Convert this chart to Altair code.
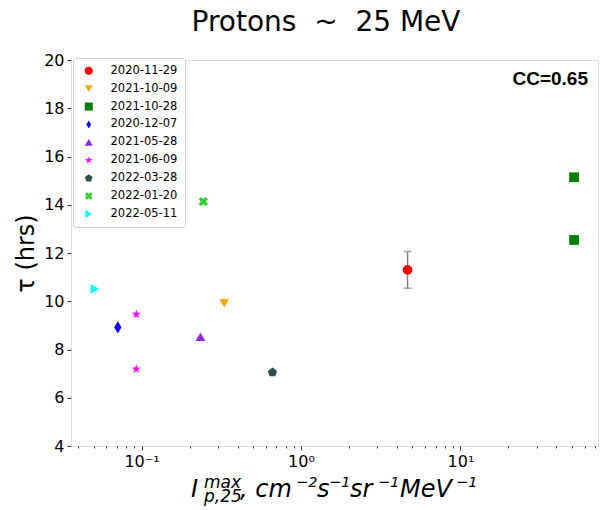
import altair as alt
import pandas as pd

# ---- data ----
dates = ["2020-11-29", "2021-10-09", "2021-10-28", "2021-10-28", "2020-12-07",
         "2021-05-28", "2021-06-09", "2021-06-09", "2022-03-28", "2022-01-20", "2022-05-11"]
intensity = [4.66, 0.33, 51.6, 51.6, 0.071, 0.234, 0.0927, 0.0927, 0.662, 0.244, 0.051]
tau = [11.3, 9.92, 15.14, 12.54, 8.92, 8.53, 9.46, 7.19, 7.05, 14.13, 10.51]

err_date = ["2020-11-29"]
err_x = [4.66]
err_lo = [10.54]
err_hi = [12.06]

legend_order = ["2020-11-29", "2021-10-09", "2021-10-28", "2020-12-07", "2021-05-28",
                "2021-06-09", "2022-03-28", "2022-01-20", "2022-05-11"]

major_ticks = [0.1, 1, 10]
minor_ticks = [0.04, 0.05, 0.06, 0.07, 0.08, 0.09,
               0.2, 0.3, 0.4, 0.5, 0.6, 0.7, 0.8, 0.9,
               2, 3, 4, 5, 6, 7, 8, 9,
               20, 30, 40, 50, 60, 70]
y_ticks = [4, 6, 8, 10, 12, 14, 16, 18, 20]

# ---- styles ----
DIAMOND = "M0,-1L0.6,0L0,1L-0.6,0Z"
STAR = ("M0,-1L0.2245,-0.309L0.951,-0.309L0.363,0.118L0.588,0.809L0,0.382"
        "L-0.588,0.809L-0.363,0.118L-0.951,-0.309L-0.2245,-0.309Z")
PENTAGON = "M0,-1L0.951,-0.309L0.588,0.809L-0.588,0.809L-0.951,-0.309Z"
XFILLED = ("M0.4596,-0.9546L0.9546,-0.4596L0.495,0L0.9546,0.4596L0.4596,0.9546L0,0.495"
           "L-0.4596,0.9546L-0.9546,0.4596L-0.495,0L-0.9546,-0.4596L-0.4596,-0.9546L0,-0.495Z")
colors = ["red", "orange", "green", "blue", "blueviolet", "magenta",
          "darkslategray", "limegreen", "cyan"]
shapes = ["circle", "triangle-down", "square", DIAMOND, "triangle-up", STAR,
          PENTAGON, XFILLED, "triangle-right"]

FONT = "DejaVu Sans"
W, H = 527, 386
NB = "\u00a0"

df = pd.DataFrame({"date": dates, "I": intensity, "tau": tau})
df_err = pd.DataFrame({"date": err_date, "I": err_x, "lo": err_lo, "hi": err_hi})

major_test = "indexof([0.1, 1, 10], datum.value) >= 0"
x_scale = alt.Scale(type="log", domain=[0.0361, 72.9], nice=False)
y_scale = alt.Scale(domain=[4, 20], nice=False)

x_axis = alt.Axis(
    values=sorted(major_ticks + minor_ticks),
    labelExpr="datum.value == 0.1 ? '10⁻¹' : datum.value == 1 ? '10⁰' : datum.value == 10 ? '10¹' : ''",
    tickSize={"condition": {"test": major_test, "value": 4}, "value": 2},
    grid=False, domain=False, title=None,
    labelFont=FONT, labelFontSize=16, labelColor="black", labelPadding=3,
    labelOverlap=False, labelFlush=False, tickColor="#333",
)
y_axis = alt.Axis(
    values=y_ticks, grid=False, domain=False, title="τ (hrs)",
    titleFont=FONT, titleFontSize=24, titleFontWeight="normal", titleColor="black",
    titlePadding=5,
    labelFont=FONT, labelFontSize=16, labelColor="black", labelPadding=3,
    tickSize=4, tickColor="#333",
)

legend = alt.Legend(
    title=None, orient="none", legendX=2, legendY=-2, padding=7,
    strokeColor="#cccccc", fillColor="rgba(255,255,255,0.85)", cornerRadius=3,
    labelFont=FONT, labelFontSize=11.5, labelColor="black",
    symbolSize=64, symbolOffset=3, labelOffset=16, rowPadding=4.9,
    symbolStrokeWidth=0,
)

X = lambda field="I": alt.X(f"{field}:Q", scale=x_scale, axis=x_axis)
Y = lambda field="tau": alt.Y(f"{field}:Q", scale=y_scale, axis=y_axis)

err_rule = alt.Chart(df_err).mark_rule(color="gray", strokeWidth=1.5).encode(
    x=X(), y=Y("lo"), y2="hi:Q")
err_caps = alt.Chart(df_err).transform_fold(["lo", "hi"], as_=["k", "tau"]).mark_tick(
    orient="horizontal", size=8, thickness=1.5, color="gray").encode(x=X(), y=Y())

points = alt.Chart(df).mark_point(filled=True, opacity=1).encode(
    x=X(), y=Y(),
    color=alt.Color("date:N", scale=alt.Scale(domain=legend_order, range=colors), legend=legend),
    shape=alt.Shape("date:N", scale=alt.Scale(domain=legend_order, range=shapes), legend=legend),
    size=alt.condition(alt.datum.date == "2020-12-07", alt.value(150), alt.value(95)),
)


def label(text, x, y, size, style="normal", weight="normal", font=FONT, align="left"):
    return alt.Chart(pd.DataFrame({"t": [text]})).mark_text(
        font=font, fontSize=size, fontStyle=style, fontWeight=weight,
        align=align, baseline="alphabetic", color="black",
    ).encode(text="t:N", x=alt.value(x), y=alt.value(y))


title = label(f"Protons{NB}{NB}~{NB}{NB}25{NB}MeV", 255, -29, 28, align="center")
cc = label("CC=0.65", 517, 25, 19, weight="bold", font="Liberation Sans", align="right")

MAIN, SUB = 24, 17
SUP = 14.5
xlabel = [
    label("I", 120, 437, MAIN, style="italic"),
    label("max", 133, 428, SUB, style="italic"),
    label("p,25", 133, 442, SUB, style="italic"),
    label(f",{NB}cm", 169, 437, MAIN, style="italic"),
    label("−2", 225, 427, SUP, style="italic"),
    label("s", 246, 437, MAIN, style="italic"),
    label("−1", 258, 427, SUP, style="italic"),
    label("sr", 279, 437, MAIN, style="italic"),
    label("−1", 307, 427, SUP, style="italic"),
    label("MeV", 329, 437, MAIN, style="italic"),
    label("−1", 385, 427, SUP, style="italic"),
]

chart = alt.layer(err_rule, err_caps, points, title, cc, *xlabel).properties(
    width=W, height=H,
    autosize=alt.AutoSizeParams(type="none"),
    padding={"left": 63, "top": 52, "right": 3, "bottom": 62},
).configure_view(stroke="#666", strokeWidth=1.5).configure(background="white")

chart.save("out.html", embed_options={"renderer": "svg", "actions": False})
